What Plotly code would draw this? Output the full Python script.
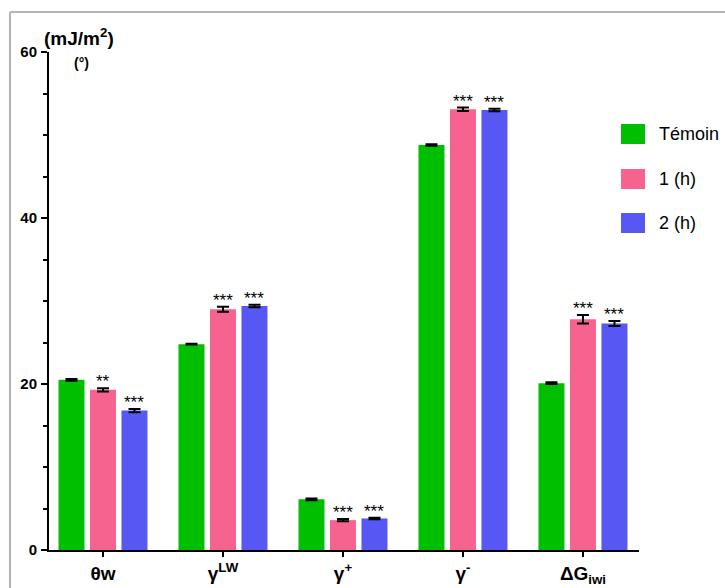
import plotly.graph_objects as go

categories = ["θw", "γ<sup>LW</sup>", "γ<sup>+</sup>", "γ<sup>-</sup>", "ΔG<sub>iwi</sub>"]
series_names = ["Témoin", "1 (h)", "2 (h)"]
temoin = [20.5, 24.8, 6.1, 48.8, 20.1]
h1 = [19.3, 29.0, 3.6, 53.1, 27.8]
h2 = [16.8, 29.4, 3.8, 53.0, 27.3]
err_temoin = [0.1, 0.05, 0.1, 0.1, 0.1]
err_h1 = [0.2, 0.3, 0.15, 0.2, 0.5]
err_h2 = [0.2, 0.15, 0.1, 0.15, 0.3]
stars_h1 = ["**", "***", "***", "***", "***"]
stars_h2 = ["***", "***", "***", "***", "***"]
colors = ["#00BE00", "#F7638F", "#5757F4"]

W, H = 725, 588
L, R, T, B = 49, 86, 52, 38
pw, ph = W - L - R, H - T - B
FONT = "Liberation Sans, Arial"

def px2paper_x(px):
    return (px - L) / pw

def px2paper_y(py):
    return (H - B - py) / ph

idx = list(range(len(categories)))
data = [temoin, h1, h2]
errs = [err_temoin, err_h1, err_h2]
fig = go.Figure()
for name, vals, er, c in zip(series_names, data, errs, colors):
    fig.add_trace(go.Bar(
        x=idx, y=vals, name=name, marker=dict(color=c, line=dict(width=0)),
        error_y=dict(type="data", array=er, color="black", thickness=2, width=6),
        showlegend=False,
    ))

bargap = 0.2125
slot = (1 - bargap) / 3
annotations = []
for k, (vals, er, st) in enumerate([(h1, err_h1, stars_h1), (h2, err_h2, stars_h2)], start=1):
    for i in idx:
        annotations.append(dict(
            x=i + (k - 1) * slot, y=vals[i] + er[i], xref="x", yref="y",
            text=st[i], showarrow=False, yanchor="bottom", xanchor="center", yshift=-5,
            font=dict(family=FONT, size=17, color="black"),
        ))

annotations.append(dict(x=px2paper_x(42), y=px2paper_y(37), xref="paper", yref="paper",
                        text="(mJ/m<sup>2</sup>)", showarrow=False,
                        xanchor="left", yanchor="middle",
                        font=dict(family=FONT, size=19, color="black", weight="bold")))
annotations.append(dict(x=px2paper_x(81), y=px2paper_y(63), xref="paper", yref="paper",
                        text="(°)", showarrow=False, xanchor="center", yanchor="middle",
                        font=dict(family=FONT, size=14, color="black", weight="bold")))

shapes = []
legend_y = [134, 179, 223]
for name, c, ly in zip(series_names, colors, legend_y):
    shapes.append(dict(type="rect", xref="paper", yref="paper",
                       x0=px2paper_x(621), x1=px2paper_x(645),
                       y0=px2paper_y(ly + 10), y1=px2paper_y(ly - 10),
                       fillcolor=c, line=dict(width=0)))
    annotations.append(dict(x=px2paper_x(657), y=px2paper_y(ly), xref="paper", yref="paper",
                            text=name, showarrow=False, xanchor="left", yanchor="middle",
                            font=dict(family=FONT, size=18, color="black")))

# outer frame
shapes.append(dict(type="line", xref="paper", yref="paper",
                   x0=px2paper_x(10), x1=px2paper_x(730), y0=px2paper_y(12), y1=px2paper_y(12),
                   line=dict(color="#B4B4B4", width=2)))
shapes.append(dict(type="line", xref="paper", yref="paper",
                   x0=px2paper_x(10), x1=px2paper_x(10), y0=px2paper_y(12), y1=px2paper_y(600),
                   line=dict(color="#B4B4B4", width=2)))

fig.update_layout(
    width=W, height=H, margin=dict(l=L, r=R, t=T, b=B, autoexpand=False),
    paper_bgcolor="white", plot_bgcolor="white",
    barmode="group", bargap=bargap, bargroupgap=0.175,
    annotations=annotations, shapes=shapes, showlegend=False,
    xaxis=dict(range=[-0.45, 4.467], tickmode="array", tickvals=idx, ticktext=categories,
               showline=True, linecolor="black", linewidth=2, automargin=False,
               ticks="outside", ticklen=5, tickwidth=2, tickcolor="black",
               tickfont=dict(family=FONT, size=19, color="black", weight="bold"),
               showgrid=False, zeroline=False, fixedrange=True),
    yaxis=dict(range=[0, 60], tickmode="linear", tick0=0, dtick=20,
               showline=True, linecolor="black", linewidth=2, automargin=False,
               ticks="outside", ticklen=6, tickwidth=2, tickcolor="black",
               minor=dict(dtick=5, ticks="outside", ticklen=4, tickwidth=1.5, tickcolor="black", showgrid=False),
               tickfont=dict(family=FONT, size=15, color="black", weight="bold"),
               ticklabelstandoff=1,
               showgrid=False, zeroline=False, fixedrange=True),
)
fig.write_html("out.html")
